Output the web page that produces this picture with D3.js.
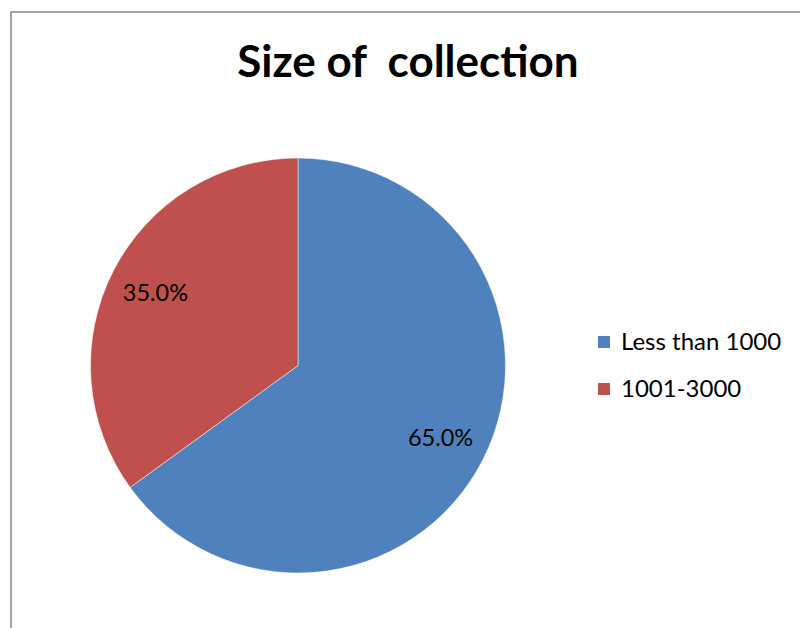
<!DOCTYPE html>
<html><head><meta charset="utf-8">
<script src="https://cdn.jsdelivr.net/npm/d3@7"></script>
<style>body{margin:0;background:#fff}svg{display:block}text{white-space:pre}</style>
</head><body>
<svg id="c" width="800" height="628"></svg>
<script>
const categories = ["Less than 1000", "1001-3000"];
const values = [65.0, 35.0];
const colors = ["#4F81BD", "#C0504D"];
const title = "Size of  collection";

const svg = d3.select("#c");
svg.append("rect").attr("x",0).attr("y",0).attr("width",800).attr("height",628).attr("fill","#fff");
svg.append("path").attr("d","M11,628 V12 H800").attr("fill","none").attr("stroke","#878787").attr("stroke-width",1.5);

svg.append("text").attr("x",408).attr("y",77).attr("text-anchor","middle")
  .attr("font-family","Lato, 'Open Sans', sans-serif").attr("font-weight","bold").attr("font-size",44)
  .attr("fill","#000").text(title);

const cx = 298, cy = 365.5, R = 207.5;
const pie = d3.pie().sort(null).value(d=>d)(values);
const arc = d3.arc().innerRadius(0).outerRadius(R);
const labelArc = d3.arc().innerRadius(160).outerRadius(160);
const g = svg.append("g").attr("transform",`translate(${cx},${cy})`);
g.selectAll("path").data(pie).join("path").attr("d",arc).attr("fill",(d,i)=>colors[i])
  .attr("stroke","#fff").attr("stroke-width",0.5);
g.selectAll("text").data(pie).join("text")
  .attr("transform",d=>`translate(${labelArc.centroid(d)})`)
  .attr("text-anchor","middle").attr("dy","0.35em")
  .attr("font-family","Lato, 'Open Sans', sans-serif").attr("font-size",23.5).attr("fill","#000")
  .text(d=>d.data.toFixed(1)+"%");

const leg = svg.append("g");
categories.forEach((c,i)=>{
  const y = 342 + i*47;
  leg.append("rect").attr("x",598).attr("y",y-6).attr("width",12).attr("height",12).attr("fill",colors[i]);
  leg.append("text").attr("x",621).attr("y",y).attr("dy","0.35em")
    .attr("font-family","Lato, 'Open Sans', sans-serif").attr("font-size",24).attr("fill","#000").text(c);
});
</script>
</body></html>
